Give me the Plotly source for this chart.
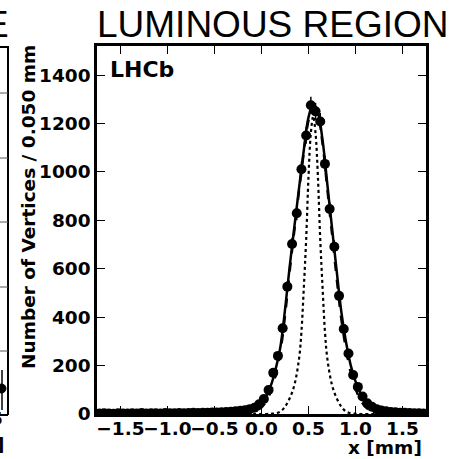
import numpy as np
import plotly.graph_objects as go

# Histogram of vertex x positions, 0.050 mm bins from -1.75 to 1.75 mm
bin_centers = np.round(np.arange(-1.725, 1.75, 0.05), 3)
counts = [
    2, 3, 2, 1, 3, 2, 2, 3, 2, 4, 2, 3, 3, 2, 4, 3, 3, 4, 3, 4,
    5, 4, 5, 5, 6, 6, 7, 8, 9, 11, 13, 16, 20, 26, 40,
    62, 99, 170, 240, 354, 526, 702, 829, 1011, 1150, 1275, 1250, 1208, 1033, 847,
    691, 488, 351, 250, 161, 112, 72, 44, 30, 20, 14, 11, 8, 7, 5,
    5, 4, 3, 3, 2,
]

# Total fit (solid)
fit_x = [-1.75, -1.25, -0.75, -0.5, -0.3, -0.2, -0.1, -0.05, 0.0,
         0.05, 0.1, 0.15, 0.2, 0.25, 0.3, 0.35, 0.4, 0.45, 0.5, 0.55, 0.6,
         0.65, 0.7, 0.75, 0.8, 0.85, 0.9, 0.95, 1.0, 1.05, 1.1, 1.15, 1.2,
         1.3, 1.4, 1.5, 1.75]
fit_y = [2, 3, 4, 6, 10, 14, 22, 30, 45,
         72, 118, 185, 275, 430, 610, 775, 935, 1090, 1225, 1280, 1245,
         1130, 950, 770, 590, 420, 295, 200, 135, 88, 55, 35, 24,
         13, 8, 5, 2]

# Signal component (dashed)
sig_x = [-1.75, -0.5, -0.3, -0.2, -0.1, -0.05, 0.0,
         0.05, 0.1, 0.15, 0.2, 0.25, 0.3, 0.35, 0.4, 0.45, 0.5, 0.55, 0.6,
         0.65, 0.7, 0.75, 0.8, 0.85, 0.9, 0.95, 1.0, 1.05, 1.1, 1.15, 1.2,
         1.3, 1.4, 1.75]
sig_y = [2, 2, 3, 4, 8, 15, 28,
         52, 95, 160, 255, 405, 590, 760, 925, 1080, 1212, 1268, 1235,
         1115, 930, 745, 560, 390, 265, 170, 105, 60, 32, 16, 8,
         3, 2, 2]

# Luminous region after resolution unfolding (dotted)
lum_x = [-1.75, 0.05, 0.1, 0.15, 0.2, 0.25, 0.3, 0.35, 0.4, 0.425, 0.45,
         0.475, 0.5, 0.525, 0.55, 0.575, 0.6, 0.625, 0.65, 0.675, 0.7,
         0.75, 0.8, 0.85, 0.9, 0.95, 1.0, 1.05, 1.75]
lum_y = [0, 0, 1, 3, 10, 30, 65, 120, 230, 340, 520,
         720, 980, 1160, 1230, 1160, 980, 720, 520, 340, 230,
         120, 65, 30, 10, 3, 1, 0, 0]

x_ticks = [-1.5, -1.0, -0.5, 0.0, 0.5, 1.0, 1.5]
x_tick_text = ["\u22121.5", "\u22121.0", "\u22120.5", "0.0", "0.5", "1.0", "1.5"]
y_ticks = [0, 200, 400, 600, 800, 1000, 1200, 1400]

BOLD = dict(family="DejaVu Sans", size=18.5, color="black", weight="bold")

fig = go.Figure()
fig.add_trace(go.Scatter(
    x=lum_x, y=lum_y, mode="lines", line=dict(color="black", width=2.2, dash="dot", shape="spline"),
))
fig.add_trace(go.Scatter(
    x=sig_x, y=sig_y, mode="lines", line=dict(color="black", width=2.5, dash="dash", shape="spline"),
))
fig.add_trace(go.Scatter(
    x=fit_x, y=fit_y, mode="lines", line=dict(color="black", width=2.5, shape="spline"),
))
fig.add_trace(go.Scatter(
    x=bin_centers, y=counts, mode="markers",
    marker=dict(color="black", size=10),
    error_y=dict(type="data", array=np.sqrt(counts), color="black", thickness=1.5, width=0),
))

# pixel -> paper helpers for the surrounding decorations
L, R, T, B = 97, 28, 46, 45
W, H = 454, 459
pw, ph = W - L - R, H - T - B
def px(x):
    return (x - L) / pw
def py(y):
    return (H - B - y) / ph

ann = [
    dict(text="LUMINOUS REGION", x=px(95), y=py(24), xanchor="left", yanchor="middle",
         font=dict(family="Liberation Sans", size=37, color="black")),
    dict(text="E", x=px(11), y=py(24), xanchor="right", yanchor="middle",
         font=dict(family="Liberation Sans", size=37, color="black")),
    dict(text="LHCb", x=px(108), y=py(70), xanchor="left", yanchor="middle",
         font=dict(family="DejaVu Sans", size=22, color="black", weight="bold")),
    dict(text="x [mm]", x=px(424), y=py(447), xanchor="right", yanchor="middle", font=BOLD),
    dict(text="Number of Vertices / 0.050 mm", x=px(28), y=py(207), textangle=-90,
         xanchor="center", yanchor="middle", font=BOLD),
    dict(text="5", x=px(5), y=py(419), xanchor="right", yanchor="middle", font=BOLD),
    dict(text="]", x=px(6), y=py(444), xanchor="right", yanchor="middle", font=BOLD),
]
for a in ann:
    a.update(xref="paper", yref="paper", showarrow=False)

# edge of the neighbouring panel
shapes = [
    dict(type="line", x0=px(8), x1=px(8), y0=py(46), y1=py(415), line=dict(color="black", width=2)),
    dict(type="line", x0=px(-2), x1=px(8), y0=py(47), y1=py(47), line=dict(color="black", width=2)),
    dict(type="line", x0=px(-2), x1=px(8), y0=py(415), y1=py(415), line=dict(color="black", width=2)),
]
for yy in [93, 158, 222, 287, 351]:
    shapes.append(dict(type="line", x0=px(-2), x1=px(8), y0=py(yy), y1=py(yy),
                       line=dict(color="#555555", width=1)))
shapes.append(dict(type="circle", x0=px(-3), x1=px(6), y0=py(384), y1=py(393),
                   fillcolor="black", line=dict(color="black", width=1)))
shapes.append(dict(type="line", x0=px(2), x1=px(2), y0=py(370), y1=py(410),
                   line=dict(color="black", width=1.5)))
for s in shapes:
    s.update(xref="paper", yref="paper")

axis_common = dict(
    showline=True, linecolor="black", linewidth=2.5, mirror="allticks",
    ticks="inside", ticklen=8, tickwidth=1, tickcolor="black",
    showgrid=False, zeroline=False, tickfont=BOLD, tickangle=0, automargin=False,
)
fig.update_layout(
    width=W, height=H,
    margin=dict(l=L, r=R, t=T, b=B, pad=0),
    paper_bgcolor="white", plot_bgcolor="white",
    showlegend=False,
    xaxis=dict(range=[-1.75, 1.75], tickvals=x_ticks, ticktext=x_tick_text,
               ticklabelstandoff=-4, **axis_common),
    yaxis=dict(range=[0, 1520], tickvals=y_ticks, **axis_common),
    annotations=ann, shapes=shapes,
)
fig.write_html("out.html")
